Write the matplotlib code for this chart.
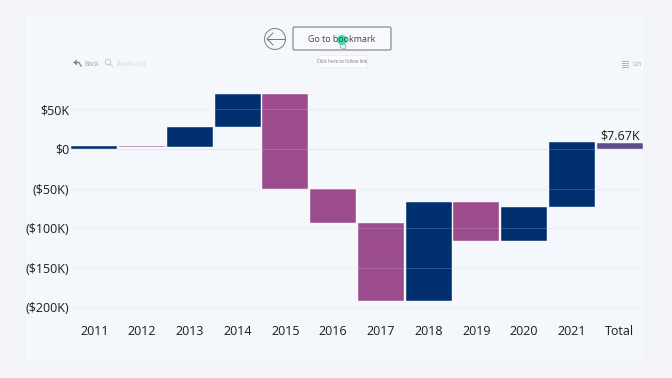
import matplotlib
matplotlib.use("Agg")
import matplotlib.pyplot as plt
from matplotlib.patches import Circle, FancyBboxPatch, Rectangle, Polygon

plt.rcParams['font.family'] = ['Open Sans', 'DejaVu Sans']

years = ["2011", "2012", "2013", "2014", "2015", "2016", "2017", "2018", "2019", "2020", "2021", "Total"]
changes = [3.5, -1.0, 25.5, 42.0, -120.5, -43.0, -99.0, 125.0, -49.0, 43.0, 82.0, 7.67]
y_ticks = [50, 0, -50, -100, -150, -200]
y_labels = ["$50K", "$0", "($50K)", "($100K)", "($150K)", "($200K)"]

NAVY = "#00306f"
PINK = "#9c4c8c"
PURPLE = "#5f4b8b"
TEXT = "#1c1c1c"

fig = plt.figure(figsize=(6.72, 3.78), dpi=100, facecolor="#f2f4f9")

# page panel and all the widgets, in pixel coordinates
bg = fig.add_axes([0, 0, 1, 1], zorder=0)
bg.set_xlim(0, 672)
bg.set_ylim(378, 0)
bg.axis("off")
bg.add_patch(Rectangle((26, 15), 617, 345, fc="#f4f7fc", ec="none"))

# chart
ax = fig.add_axes([70.5 / 672, (378 - 315) / 378, 573 / 672, 235 / 378], zorder=1)
ax.patch.set_alpha(0)
ax.set_xlim(-0.5, 11.5)
ax.set_ylim(-209.6, 87.1)

bottom = 0
for i, (year, ch) in enumerate(zip(years, changes)):
    if year == "Total":
        col = PURPLE
        start = 0
    else:
        col = NAVY if ch > 0 else PINK
        start = bottom
        bottom += ch
    ax.bar(i, ch, bottom=start, width=0.96, color=col, edgecolor="white", linewidth=0.3, zorder=2)

for t in y_ticks:
    ax.axhline(t, color="#dfe3ec", lw=0.7, alpha=0.2, zorder=3)
    ax.axhline(t, color="#e4e7ee", lw=0.7, alpha=0.9 if t == 0 else 0.3, zorder=1)

ax.text(11, 7.67 + 1, "$7.67K", ha="center", va="bottom", fontsize=9, color=TEXT, zorder=4)

ax.set_xticks(range(len(years)))
ax.set_xticklabels(years)
ax.set_yticks(y_ticks)
ax.set_yticklabels(y_labels)
ax.tick_params(axis="both", length=0, labelsize=9, labelcolor=TEXT)
ax.tick_params(axis="x", pad=7)
ax.tick_params(axis="y", pad=1)
for s in ax.spines.values():
    s.set_visible(False)

# top widgets
top = fig.add_axes([0, 0, 1, 1], zorder=2)
top.set_xlim(0, 672)
top.set_ylim(378, 0)
top.axis("off")

top.add_patch(Circle((275, 39), 10.5, fc="none", ec="#8a8a8a", lw=0.8))
top.plot([267, 284], [39, 39], color="#777777", lw=0.7)
top.plot([273, 267, 273], [33, 39, 45], color="#777777", lw=0.7)
top.add_patch(FancyBboxPatch((293, 27), 98, 23, boxstyle="round,pad=0,rounding_size=1.5",
                             fc="#f7f9fe", ec="#8c8c8c", lw=0.9))
top.text(342, 39, "Go to bookmark", ha="center", va="center", fontsize=6.4, color="#444444")
top.add_patch(Rectangle((318, 55), 49, 12, fc="#fbfcff", ec="#e9ebf1", lw=0.5))
top.text(342.5, 61.5, "Click here to follow link", ha="center", va="center", fontsize=3.4, color="#777777")
top.add_patch(Polygon([(341, 44), (345, 44), (346, 48), (343, 49), (340, 47)], fc="#f4f4f4", ec="#999999", lw=0.5))
top.add_patch(Circle((342, 40), 5, fc="#3fdfb4", ec="none"))

top.text(84, 64, "Back", ha="left", va="center", fontsize=4.8, color="#a0a3aa")
top.add_patch(Polygon([(73, 62.5), (77, 59.5), (77, 65.5)], fc="#85888f", ec="none"))
top.plot([76, 79, 81], [62.5, 62.5, 66], color="#85888f", lw=1.0)
top.add_patch(Circle((108, 62), 2.8, fc="none", ec="#c6c9cf", lw=0.7))
top.plot([110, 113], [64, 67], color="#c6c9cf", lw=0.7)
top.text(116, 64, "Zoom-out", ha="left", va="center", fontsize=4.8, color="#ced1d7")

for yy in [60.5, 62.5, 64.5, 66.5]:
    top.plot([622, 628], [yy, yy], color="#b0b3ba", lw=0.7)
top.text(632, 64, "Lin", ha="left", va="center", fontsize=4.8, color="#a9acb3")

fig.savefig("out.png", dpi=100, facecolor=fig.get_facecolor())
